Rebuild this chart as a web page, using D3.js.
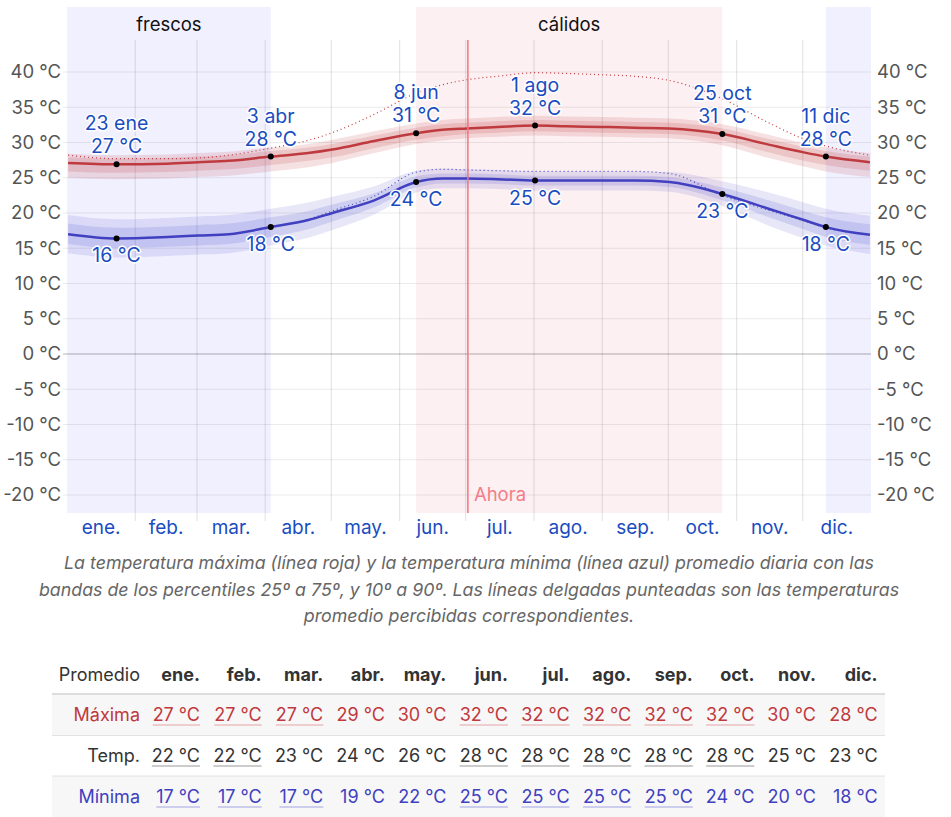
<!DOCTYPE html>
<html><head><meta charset="utf-8">
<script src="https://cdn.jsdelivr.net/npm/d3@7"></script>
<style>
html,body{margin:0;padding:0;background:#fff;}
svg{display:block;font-family:Inter,"Liberation Sans",Arial,sans-serif;}
</style></head>
<body><svg id="c" width="951" height="817"></svg>
<script>
// ---------- DATA ----------
const months = ["ene.","feb.","mar.","abr.","may.","jun.","jul.","ago.","sep.","oct.","nov.","dic."];
const monthDays = [31,28,31,30,31,30,31,31,30,31,30,31];
const yTicks = [-20,-15,-10,-5,0,5,10,15,20,25,30,35,40];

// day of year (0-based) knots
const knotDays = [0,22,45,59,73,92,109,120,139,158,170,181,195,212,226,243,257,273,297,318,334,344,364];
const maxTemp  = [27.1,26.9,27.0,27.2,27.4,28.0,28.5,29.0,30.2,31.3,31.8,32.0,32.2,32.4,32.3,32.2,32.1,32.0,31.2,29.7,28.6,28.0,27.2];
const maxP90   = [28.4,28.2,28.3,28.5,28.7,29.3,29.8,30.4,31.6,32.7,33.2,33.4,33.6,33.8,33.7,33.6,33.5,33.4,32.6,31.1,29.9,29.3,28.5];
const maxP75   = [27.9,27.7,27.8,28.0,28.2,28.8,29.3,29.8,31.0,32.1,32.6,32.8,33.0,33.2,33.1,33.0,32.9,32.8,32.0,30.5,29.4,28.8,28.0];
const maxP25   = [25.9,25.7,25.8,26.0,26.2,26.8,27.4,27.9,29.2,30.4,30.9,31.2,31.4,31.6,31.5,31.4,31.3,31.2,30.3,28.6,27.4,26.8,26.0];
const maxP10   = [25.0,24.8,24.9,25.1,25.3,25.9,26.5,27.1,28.5,29.8,30.3,30.6,30.8,31.0,30.9,30.8,30.7,30.6,29.6,27.8,26.6,25.9,25.1];
const maxFeel  = [28.2,27.7,27.7,27.8,28.2,29.2,30.3,31.4,34.0,37.0,38.2,38.9,39.4,39.9,39.8,39.6,39.4,38.8,36.2,32.8,30.5,29.5,28.2];

const minTemp  = [17.0,16.4,16.6,16.8,17.0,18.0,19.0,20.0,21.8,24.4,24.9,24.9,24.8,24.6,24.6,24.6,24.6,24.4,22.7,20.6,19.0,18.0,16.9];
const minP90   = [19.7,19.1,19.3,19.5,19.7,20.6,21.5,22.3,23.8,26.0,26.3,26.2,26.1,25.9,25.9,25.9,25.9,25.8,24.5,22.9,21.5,20.6,19.6];
const minP75   = [18.5,17.9,18.1,18.3,18.5,19.4,20.3,21.2,22.8,25.2,25.6,25.6,25.5,25.3,25.3,25.3,25.3,25.1,23.6,21.8,20.3,19.4,18.4];
const minP25   = [15.6,15.0,15.2,15.4,15.6,16.6,17.7,18.8,20.8,23.6,24.2,24.2,24.1,23.9,23.9,23.9,23.9,23.7,21.8,19.4,17.7,16.6,15.5];
const minP10   = [14.3,13.7,13.9,14.1,14.3,15.4,16.5,17.6,19.8,22.9,23.5,23.5,23.4,23.2,23.2,23.2,23.2,23.0,21.0,18.2,16.4,15.4,14.2];
const minFeel  = [17.0,16.4,16.6,16.8,17.0,18.0,19.1,20.3,22.4,25.8,26.2,26.1,26.0,25.9,25.9,25.9,25.9,25.6,22.5,20.4,18.9,17.9,16.9];

// highlighted points
const hiDays   = [22,92,158,212,297,344];
const hiDates  = ["23 ene","3 abr","8 jun","1 ago","25 oct","11 dic"];
const hiMax    = [27,28,31,32,31,28];
const hiMin    = [16,18,24,25,23,18];

// seasons
const seasonNames = ["frescos","cálidos"];
const coolRanges = [[0,92.5],[344.5,365]];
const warmRange = [158.5,297.5];
const nowDay = 182;

// table
const tblMax  = [27,27,27,29,30,32,32,32,32,32,30,28];
const tblTemp = [22,22,23,24,26,28,28,28,28,28,25,23];
const tblMin  = [17,17,17,19,22,25,25,25,25,24,20,18];
const ulMax  = [1,1,1,0,0,1,1,1,1,1,0,0];
const ulTemp = [1,1,0,0,0,1,1,1,1,1,0,0];
const ulMin  = [1,1,1,0,0,1,1,1,1,0,0,0];

// ---------- CHART ----------
const FS = 18;
const svg = d3.select("#c");
const L = 67, R = 871, T = 7, B = 513;
const x = d3.scaleLinear().domain([0,365]).range([L,R]);
const y = d3.scaleLinear().domain([0,40]).range([354,72]);
const blueTxt = "#1a4cc0";

// season backgrounds
coolRanges.forEach(r=>{
  svg.append("rect").attr("x",x(r[0])).attr("y",T)
    .attr("width",x(r[1])-x(r[0])).attr("height",B-T).attr("fill","#f0f0ff");
});
svg.append("rect").attr("x",x(warmRange[0])).attr("y",T)
  .attr("width",x(warmRange[1])-x(warmRange[0])).attr("height",B-T).attr("fill","#fcf0f2");
svg.append("text").attr("x",(x(coolRanges[0][0])+x(coolRanges[0][1]))/2).attr("y",31).attr("text-anchor","middle")
  .attr("font-size",18.5).attr("fill","#111").text(seasonNames[0]);
svg.append("text").attr("x",(x(warmRange[0])+x(warmRange[1]))/2).attr("y",31).attr("text-anchor","middle")
  .attr("font-size",18.5).attr("fill","#111").text(seasonNames[1]);

// horizontal grid
const gy = svg.append("g");
yTicks.forEach(t=>{
  gy.append("line").attr("x1",L-4).attr("x2",R).attr("y1",y(t)).attr("y2",y(t))
    .attr("stroke", t===0 ? "rgba(0,0,0,0.3)" : "rgba(0,0,0,0.08)").attr("stroke-width",1.2);
});
// month grid
const monthStarts = d3.cumsum([0].concat(monthDays));
monthStarts.slice(1,12).forEach(d=>{
  svg.append("line").attr("x1",x(d)).attr("x2",x(d)).attr("y1",40).attr("y2",521)
    .attr("stroke","rgba(0,0,0,0.1)").attr("stroke-width",1.2);
});

// axes labels
const yAxL = d3.axisLeft(y).tickValues(yTicks).tickSize(0).tickPadding(6).tickFormat(d=>d+" °C");
const yAxR = d3.axisRight(y).tickValues(yTicks).tickSize(0).tickPadding(6).tickFormat(d=>d+" °C");
const gL = svg.append("g").attr("transform",`translate(${L},0)`).call(yAxL);
const gR = svg.append("g").attr("transform",`translate(${R},0)`).call(yAxR);
[gL,gR].forEach(g=>{
  g.select(".domain").remove();
  g.selectAll("text").attr("font-size",18.5).attr("fill","#555").attr("font-family","Inter, Liberation Sans, Arial, sans-serif");
});
const monthMid = months.map((m,i)=>(monthStarts[i]+monthStarts[i+1])/2);
const gX = svg.append("g");
months.forEach((m,i)=>{
  gX.append("text").attr("x",x(monthMid[i])).attr("y",534).attr("text-anchor","middle")
    .attr("font-size",19).attr("fill",blueTxt).text(m);
});

// bands and lines
const kx = d => x(d+0.5);
function area(lo,hi){ return d3.area().x((d,i)=>kx(knotDays[i])).y0((d,i)=>y(lo[i])).y1((d,i)=>y(hi[i])).curve(d3.curveMonotoneX)(knotDays); }
function line(v){ return d3.line().x((d,i)=>kx(knotDays[i])).y((d,i)=>y(v[i])).curve(d3.curveMonotoneX)(knotDays); }

svg.append("path").attr("d",area(maxP10,maxP90)).attr("fill","rgba(192,57,61,0.15)");
svg.append("path").attr("d",area(maxP25,maxP75)).attr("fill","rgba(192,57,61,0.17)");
svg.append("path").attr("d",area(minP10,minP90)).attr("fill","rgba(70,70,200,0.13)");
svg.append("path").attr("d",area(minP25,minP75)).attr("fill","rgba(70,70,200,0.15)");

svg.append("path").attr("d",line(maxFeel)).attr("fill","none").attr("stroke","#c23b3f").attr("stroke-width",1.2).attr("stroke-dasharray","1,3");
svg.append("path").attr("d",line(minFeel)).attr("fill","none").attr("stroke","#4545c0").attr("stroke-width",1.2).attr("stroke-dasharray","1,3");
svg.append("path").attr("d",line(maxTemp)).attr("fill","none").attr("stroke","#bf3a3e").attr("stroke-width",2.5);
svg.append("path").attr("d",line(minTemp)).attr("fill","none").attr("stroke","#4040c0").attr("stroke-width",2.5);

// now line
svg.append("line").attr("x1",x(nowDay)).attr("x2",x(nowDay)).attr("y1",40).attr("y2",B)
  .attr("stroke","#f47480").attr("stroke-width",1.5);
svg.append("text").attr("x",x(nowDay)+6).attr("y",501).attr("font-size",18.5).attr("fill","#f47c88").text("Ahora");

// highlight markers
const lab = svg.append("g").attr("font-size",19.5).attr("fill",blueTxt).attr("text-anchor","middle")
  .attr("stroke","white").attr("stroke-width",3).attr("paint-order","stroke").attr("stroke-linejoin","round");
hiDays.forEach((d,i)=>{
  const k = knotDays.indexOf(d);
  const yx = y(maxTemp[k]), yn = y(minTemp[k]);
  svg.append("circle").attr("cx",kx(d)).attr("cy",yx).attr("r",3).attr("fill","#000");
  svg.append("circle").attr("cx",kx(d)).attr("cy",yn).attr("r",3).attr("fill","#000");
  lab.append("text").attr("x",kx(d)).attr("y",yx-34).text(hiDates[i]);
  lab.append("text").attr("x",kx(d)).attr("y",yx-11).text(hiMax[i]+" °C");
  lab.append("text").attr("x",kx(d)).attr("y",yn+24).text(hiMin[i]+" °C");
});

// caption
const cap = ["La temperatura máxima (línea roja) y la temperatura mínima (línea azul) promedio diaria con las",
 "bandas de los percentiles 25º a 75º, y 10º a 90º. Las líneas delgadas punteadas son las temperaturas",
 "promedio percibidas correspondientes."];
cap.forEach((t,i)=>{
  svg.append("text").attr("x",469).attr("y",569+i*26.5).attr("text-anchor","middle")
    .attr("font-size",17.8).attr("font-style","italic").attr("fill","#666").text(t);
});

// table
const tL = 52, tR = 885;
const colR = months.map((m,i)=>200+i*61.6);
svg.append("rect").attr("x",tL).attr("y",695).attr("width",tR-tL).attr("height",40).attr("fill","#f7f7f7");
svg.append("rect").attr("x",tL).attr("y",776).attr("width",tR-tL).attr("height",41).attr("fill","#f7f7f7");
svg.append("line").attr("x1",tL).attr("x2",tR).attr("y1",694).attr("y2",694).attr("stroke","#ddd").attr("stroke-width",2);
svg.append("line").attr("x1",tL).attr("x2",tR).attr("y1",735.5).attr("y2",735.5).attr("stroke","#e2e2e2").attr("stroke-width",1);
svg.append("line").attr("x1",tL).attr("x2",tR).attr("y1",776).attr("y2",776).attr("stroke","#e2e2e2").attr("stroke-width",1);
svg.append("text").attr("x",140).attr("y",681).attr("text-anchor","end").attr("font-size",FS).attr("fill","#333").text("Promedio");
months.forEach((m,i)=>{
  svg.append("text").attr("x",colR[i]).attr("y",681).attr("text-anchor","end").attr("font-size",FS)
    .attr("font-weight","bold").attr("fill","#333").text(m);
});
const rows = [
  {name:"Máxima", vals:tblMax, ul:ulMax, color:"#c0393d", ulc:"#e3a3a5", y:721},
  {name:"Temp.", vals:tblTemp, ul:ulTemp, color:"#333", ulc:"#999", y:762},
  {name:"Mínima", vals:tblMin, ul:ulMin, color:"#4040c0", ulc:"#a3a3e3", y:803}
];
rows.forEach(r=>{
  svg.append("text").attr("x",140).attr("y",r.y).attr("text-anchor","end").attr("font-size",FS).attr("fill",r.color).text(r.name);
  r.vals.forEach((v,i)=>{
    const t = svg.append("text").attr("x",colR[i]).attr("y",r.y).attr("text-anchor","end").attr("font-size",FS)
      .attr("fill",r.color).text(v+" °C");
    if(r.ul[i]){
      const w = t.node().getComputedTextLength();
      svg.append("line").attr("x1",colR[i]-w).attr("x2",colR[i]).attr("y1",r.y+4).attr("y2",r.y+4)
        .attr("stroke",r.ulc).attr("stroke-width",1.2);
    }
  });
});
</script></body></html>
